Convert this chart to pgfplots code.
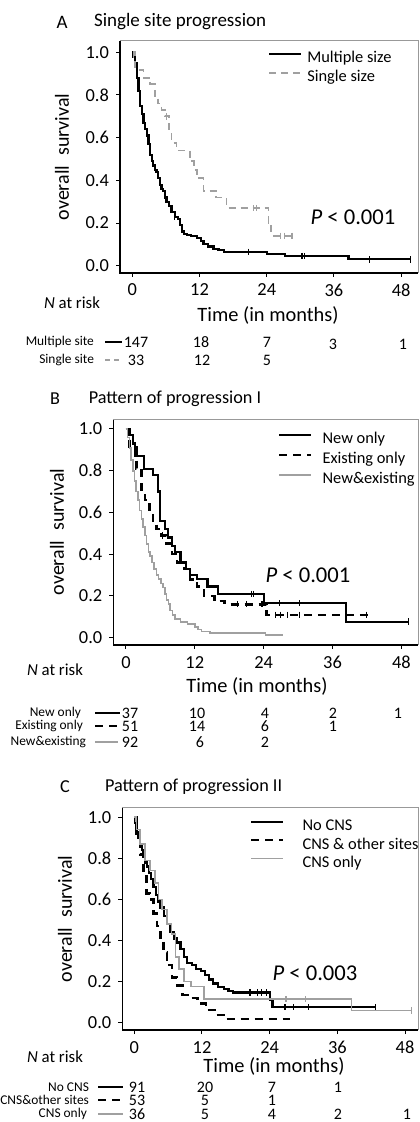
\documentclass[border=0pt]{standalone}
\usepackage{fontspec}
\setmainfont{Carlito}
\usepackage{pgfplots}
\pgfplotsset{compat=1.18}

\definecolor{kmgray}{RGB}{160,160,160}
\newcommand\fs[1]{\fontsize{#1}{#1}\selectfont}

\pgfplotsset{
  km/.style={
    scale only axis, anchor=south west,
    xtick={0,12,24,36,48}, ytick={0,0.2,0.4,0.6,0.8,1.0},
    tick pos=left, tick align=outside, major tick length=2pt,
    tick style={black,line width=0.5pt},
    axis line style={black!40,line width=0.5pt},
    /pgf/number format/assume math mode=true,
    yticklabel style={/pgf/number format/fixed,/pgf/number format/fixed zerofill,/pgf/number format/precision=1},
    tick label style={font=\fs{9.2}},
    legend cell align=left,
    legend style={draw=none,fill=none,inner sep=0pt,outer sep=0pt,anchor=north west,font=\fs{8.2},
      nodes={inner sep=0pt,text height=6pt,text depth=2pt}},
    legend image code/.code={\draw[##1] (0pt,2.5pt) -- (16pt,2.5pt);},
    after end axis/.code={\draw[black,line width=0.6pt] (rel axis cs:0,1) -- (rel axis cs:0,0) -- (rel axis cs:1,0);},
  },
  cens/.style={only marks, mark=|, mark size=1.6pt, forget plot},
}

\begin{document}
\begin{tikzpicture}
\path[use as bounding box] (0,0) rectangle (209.5pt,561pt);

% ---------------- A
\begin{axis}[km, at={(60pt,424.5pt)}, width=149pt, height=116pt,
  xmin=-2.2, xmax=51, ymin=-0.034, ymax=1.053,
  legend style={at={(0.497,0.957)}, column sep=2.5pt, row sep=1.5pt}]
\addplot[const plot, black, line width=1.1pt] coordinates {
(0,1) (0.2,0.99) (0.5,0.95) (0.8,0.88) (1.1,0.82) (1.4,0.75) (1.7,0.71) (2.0,0.67) (2.3,0.64) (2.6,0.61)
(2.9,0.57) (3.2,0.52) (3.5,0.49) (3.75,0.47) (4.0,0.45) (4.3,0.44) (4.6,0.41) (4.9,0.38) (5.2,0.36) (5.5,0.35)
(5.8,0.32) (6.1,0.30) (6.5,0.28) (7.0,0.25) (7.6,0.23) (8.2,0.22) (8.5,0.19) (8.8,0.16) (9.2,0.15) (9.7,0.145)
(10.5,0.14) (11.5,0.13) (12.2,0.115) (12.7,0.10) (13.5,0.09) (14.5,0.08) (15.4,0.072) (16.3,0.065) (24.0,0.056)
(27.3,0.045) (38.6,0.03) (49.6,0.03)};
\addlegendentry{Multiple size}
\addplot[const plot, kmgray, line width=0.9pt, dash pattern=on 3.5pt off 2.5pt] coordinates {
(0,1) (0.5,0.917) (2.0,0.88) (3.2,0.85) (4.0,0.79) (4.6,0.76) (5.2,0.73) (5.8,0.70) (6.6,0.64) (7.0,0.575)
(7.9,0.54) (10.3,0.49) (11.0,0.45) (11.5,0.41) (12.7,0.35) (15.0,0.32) (16.8,0.27) (24.3,0.20) (24.8,0.14) (28.5,0.14)};
\addlegendentry{Single size}
\addplot[cens, black, line width=0.6pt] coordinates {(0,0.99) (7.6,0.23) (20.7,0.065) (30.3,0.045) (30.8,0.045) (42.4,0.03) (49.6,0.03)};
\addplot[cens, kmgray, line width=0.6pt] coordinates {(0.2,0.99) (6.1,0.70) (21.6,0.27) (22.2,0.27) (26.5,0.14) (27.1,0.14) (28.5,0.14)};
\end{axis}

% ---------------- B
\begin{axis}[km, at={(56.65pt,238.5pt)}, width=152.35pt, height=112.5pt,
  xmin=-2.2, xmax=50.9, ymin=-0.035, ymax=1.043,
  legend style={at={(0.5405,0.947)}, column sep=5pt, row sep=2pt}]
\addplot[const plot, black, line width=1.1pt] coordinates {
(0,1) (0.3,0.97) (1.3,0.93) (1.6,0.87) (3.1,0.81) (4.7,0.78) (5.6,0.70) (5.9,0.60) (6.0,0.56) (6.8,0.52)
(7.3,0.48) (8.0,0.44) (8.6,0.41) (9.5,0.36) (10.5,0.33) (11.2,0.30) (12.4,0.28) (14.2,0.245) (16.0,0.21)
(24.0,0.165) (38.4,0.077) (49.2,0.077)};
\addlegendentry{New only}
\addplot[const plot, black, line width=1.3pt, dash pattern=on 4pt off 3pt] coordinates {
(0,1) (0.6,0.91) (1.8,0.81) (2.7,0.71) (3.3,0.66) (4.1,0.60) (4.7,0.56) (5.3,0.52) (6.2,0.49) (7.1,0.45)
(8.0,0.40) (8.9,0.36) (10.1,0.33) (11.2,0.28) (12.4,0.245) (13.6,0.20) (15.4,0.175) (17.2,0.16) (24.5,0.109) (42.2,0.109)};
\addlegendentry{Existing only}
\addplot[const plot, kmgray, line width=0.8pt] coordinates {
(0,1) (0.3,0.96) (0.6,0.91) (0.9,0.85) (1.2,0.80) (1.5,0.75) (1.8,0.70) (2.1,0.66) (2.4,0.61) (2.7,0.57)
(3.0,0.53) (3.3,0.49) (3.6,0.45) (3.9,0.41) (4.2,0.39) (4.5,0.36) (4.9,0.33) (5.3,0.30) (5.7,0.28) (6.1,0.26)
(6.5,0.24) (6.8,0.21) (7.1,0.18) (7.4,0.16) (7.7,0.13) (8.1,0.11) (8.6,0.09) (9.5,0.075) (10.7,0.065) (12.0,0.05)
(12.6,0.04) (13.2,0.03) (14.6,0.022) (24.3,0.013) (27.3,0.013)};
\addlegendentry{New\&existing}
\addplot[cens, black, line width=0.6pt] coordinates {(21.9,0.21) (22.3,0.21) (26.8,0.165) (30.3,0.165) (49.2,0.077)};
\addplot[cens, black, line width=0.6pt] coordinates {(6.4,0.49) (19.5,0.16) (21.0,0.16) (23.7,0.16) (26.0,0.109) (26.9,0.109) (28.1,0.109) (30.3,0.109) (41.9,0.109)};
\end{axis}

% ---------------- C
\begin{axis}[km, at={(61.15pt,46pt)}, width=147.85pt, height=111pt,
  xmin=-2.13, xmax=50.3, ymin=-0.036, ymax=1.045,
  legend style={at={(0.432,0.952)}, column sep=9pt, row sep=1.2pt}]
\addplot[const plot, black, line width=1.1pt] coordinates {
(0,1) (0.1,0.97) (0.4,0.93) (0.7,0.90) (1.0,0.87) (1.3,0.84) (1.6,0.81) (1.9,0.78) (2.2,0.76) (2.6,0.73)
(3.0,0.70) (3.4,0.66) (3.8,0.62) (4.2,0.59) (4.6,0.56) (5.2,0.52) (5.8,0.48) (6.4,0.44) (7.0,0.41) (7.5,0.39)
(8.2,0.36) (8.8,0.32) (9.4,0.29) (10.2,0.28) (11.0,0.26) (11.8,0.25) (12.5,0.23) (13.3,0.21) (14.0,0.19)
(14.8,0.175) (15.9,0.165) (16.7,0.155) (17.5,0.147) (24.0,0.11) (24.5,0.075) (42.7,0.075)};
\addlegendentry{No CNS}
\addplot[const plot, black, line width=1.3pt, dash pattern=on 4pt off 3pt] coordinates {
(0,1) (0.4,0.92) (1.0,0.82) (1.6,0.71) (2.2,0.63) (2.8,0.60) (3.4,0.53) (4.0,0.47) (4.6,0.40) (5.2,0.34)
(5.8,0.28) (6.7,0.22) (7.6,0.18) (8.5,0.135) (10.0,0.12) (11.2,0.094) (12.7,0.062) (14.2,0.037) (15.9,0.018) (27.6,0.018)};
\addlegendentry{CNS \& other sites}
\addplot[const plot, kmgray, line width=0.8pt] coordinates {
(0,1) (0.4,0.94) (1.0,0.87) (1.9,0.79) (2.8,0.74) (3.7,0.68) (4.3,0.60) (4.9,0.55) (5.8,0.48) (6.6,0.43)
(7.3,0.32) (7.9,0.26) (8.8,0.20) (10.0,0.175) (12.4,0.114) (38.5,0.058) (49.2,0.058)};
\addlegendentry{CNS only}
\addplot[cens, black, line width=0.6pt] coordinates {(20.5,0.147) (21.8,0.147) (22.5,0.147) (23.5,0.147) (26.7,0.075) (28.2,0.075) (30.9,0.075) (42.7,0.075)};
\addplot[cens, kmgray, line width=0.6pt] coordinates {(0.2,0.99) (26.9,0.114) (30.4,0.114) (49.2,0.058)};
\end{axis}

% ---------------- titles, labels, numbers at risk (pixel grid of the reference)
\begin{scope}[x=0.5pt,y=-0.5pt,shift={(0pt,561pt)}]
% A
\node[font=\fs{9.5}] at (62,22) {A};
\node[anchor=west,font=\fs{9.5}] at (87,22) {Single site progression};
\node[rotate=90,font=\fs{10}] at (62,157) {overall\hspace{0.5em}survival};
\node[font=\fs{11.3}] at (353,217) {\textit{P} < 0.001};
\node[anchor=west,font=\fs{8.4}] at (37,303) {\textit{N} at risk};
\node[font=\fs{10.2}] at (268,315) {Time (in months)};
\node[anchor=east,font=\fs{6.7}] at (101,342) {Multiple site};
\draw[black,line width=1.2pt] (105,342) -- (122,342);
\node[anchor=east,font=\fs{6.7}] at (101,360) {Single site};
\draw[kmgray,line width=0.9pt,dash pattern=on 2.5pt off 2pt] (105,360) -- (122,360);
\begin{scope}[every node/.style={font=\fs{8},inner sep=0pt}]
\node at (136,342) {147}; \node at (201,342) {18}; \node at (267,342) {7}; \node at (333,344) {3}; \node at (403,344) {1};
\node at (136,360) {33}; \node at (202,360) {12}; \node at (267,360) {5};
\end{scope}
% B
\node[font=\fs{9.1}] at (55,399) {B};
\node[anchor=west,font=\fs{9.1}] at (81.7,399) {Pattern of progression I};
\node[rotate=90,font=\fs{10}] at (57,532) {overall\hspace{0.5em}survival};
\node[font=\fs{11.3}] at (308,575) {\textit{P} < 0.001};
\node[anchor=west,font=\fs{8.4}] at (20,670) {\textit{N} at risk};
\node[font=\fs{10.2}] at (257,686) {Time (in months)};
\node[anchor=east,font=\fs{6.7}] at (88,713) {New only};
\draw[black,line width=1.2pt] (95,713) -- (120,713);
\node[anchor=east,font=\fs{6.7}] at (90,726) {Existing only};
\draw[black,line width=1.2pt,dash pattern=on 4pt off 3pt] (95,726) -- (120,726);
\node[anchor=east,font=\fs{6.7}] at (93,742) {New\&existing};
\draw[kmgray,line width=0.8pt] (95,742) -- (118,742);
\begin{scope}[every node/.style={font=\fs{8},inner sep=0pt}]
\node at (130,713) {37}; \node at (197,713) {10}; \node at (265,713) {4}; \node at (333,713) {2}; \node at (398,713) {1};
\node at (130,726) {51}; \node at (197,726) {14}; \node at (265,726) {6}; \node at (333,726) {1};
\node at (130,742) {92}; \node at (200,742) {6}; \node at (265,742) {2};
\end{scope}
% C
\node[font=\fs{9.1}] at (65,787) {C};
\node[anchor=west,font=\fs{9.1}] at (98,787) {Pattern of progression II};
\node[rotate=90,font=\fs{10}] at (65,919) {overall\hspace{0.5em}survival};
\node[font=\fs{11.3}] at (315,973) {\textit{P} < 0.003};
\node[anchor=west,font=\fs{8.4}] at (20,1057) {\textit{N} at risk};
\node[font=\fs{10.2}] at (274,1066) {Time (in months)};
\node[anchor=east,font=\fs{6.7}] at (96,1087) {No CNS};
\draw[black,line width=1.2pt] (98,1087) -- (123,1087);
\node[anchor=east,font=\fs{6.7}] at (96,1100) {CNS\&other sites};
\draw[black,line width=1.2pt,dash pattern=on 4pt off 3pt] (98,1100) -- (123,1100);
\node[anchor=east,font=\fs{6.7}] at (94,1114) {CNS only};
\draw[kmgray,line width=0.8pt] (98,1114) -- (123,1114);
\begin{scope}[every node/.style={font=\fs{8},inner sep=0pt}]
\node at (137,1087) {91}; \node at (205,1087) {20}; \node at (272,1087) {7}; \node at (338,1087) {1};
\node at (137,1100) {53}; \node at (205,1100) {5}; \node at (272,1100) {1};
\node at (137,1114) {36}; \node at (205,1114) {5}; \node at (272,1114) {4}; \node at (338,1114) {2}; \node at (407,1114) {1};
\end{scope}
\end{scope}
\end{tikzpicture}
\end{document}
